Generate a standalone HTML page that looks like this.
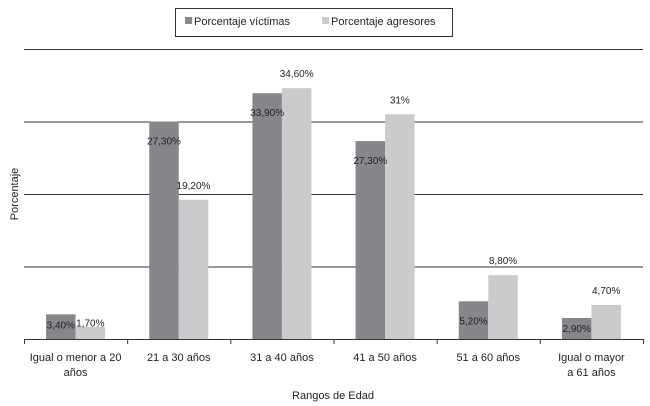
<!DOCTYPE html>
<html><head><meta charset="utf-8"><style>
body{margin:0;background:#fff;}
svg{display:block;font-family:"Liberation Sans",sans-serif;}
</style></head><body>
<svg id="c" width="650" height="406">
<g>
<rect x="175.5" y="8.5" width="277" height="28" fill="#fff" stroke="#333"/>
<rect x="185" y="17" width="7" height="7" fill="#86878a"/>
<text x="194" y="25" font-size="11" fill="#222">Porcentaje víctimas</text>
<rect x="322" y="17" width="7" height="7" fill="#cacbcd"/>
<text x="331" y="25" font-size="11" fill="#222">Porcentaje agresores</text>
</g>
<g id="grid"></g><g id="bars"></g><g id="axis"></g>
<text x="18" y="194" font-size="11" fill="#222" text-anchor="middle" transform="rotate(-90 18 194)">Porcentaje</text>
<text x="333" y="399" font-size="11" fill="#222" text-anchor="middle">Rangos de Edad</text>
</svg>
<script>
const categories=[["Igual o menor a 20","años"],["21 a 30 años"],["31 a 40 años"],["41 a 50 años"],["51 a 60 años"],["Igual o mayor","a 61 años"]];
const victimas=[3.4,30,33.9,27.3,5.2,2.9];
const agresores=[1.7,19.2,34.6,31,8.8,4.7];
const victimasLabels=["3,40%","27,30%","33,90%","27,30%","5,20%","2,90%"];
const agresoresLabels=["1,70%","19,20%","34,60%","31%","8,80%","4,70%"];
const gridValues=[10,20,30,40];

const NS="http://www.w3.org/2000/svg";
const x0=24,x1=643,y0=339,pxPer=7.25;
const step=(x1-x0)/categories.length;
const xs=i=>x0+step*(i+0.5);
const ys=v=>y0-v*pxPer;
function mk(t,a,p){const e=document.createElementNS(NS,t);for(const k in a)e.setAttribute(k,a[k]);p.appendChild(e);return e;}
const G=document.getElementById('grid'),B=document.getElementById('bars'),A=document.getElementById('axis');
gridValues.forEach((v,i)=>{const l=mk('line',{x1:x0,x2:x1,y1:ys(v)+.5,y2:ys(v)+.5,stroke:'#333','stroke-width':1},G);

});
const bw=29.5;
categories.forEach((c,i)=>{
 const cx=xs(i);
 const r1=mk('rect',{x:cx-bw,y:ys(victimas[i]),width:bw,height:victimas[i]*pxPer,fill:'#86878a'},B);
 
 
 const r2=mk('rect',{x:cx,y:ys(agresores[i]),width:bw,height:agresores[i]*pxPer,fill:'#cacbcd'},B);
 
 
 const t1=mk('text',{x:cx-bw/2,y:ys(victimas[i])+(victimas[i]<4?14:23),'font-size':10,fill:'#222','text-anchor':'middle'},B);
 t1.textContent=victimasLabels[i];
 
 
 let ty=ys(agresores[i])-11; if(ty>310) ty=ys(agresores[i])+0;
 const t2=mk('text',{x:cx+bw/2,y:ty,'font-size':10,fill:'#222','text-anchor':'middle'},B);
 t2.textContent=agresoresLabels[i];
 
 
 c.forEach((line,j)=>{const t=mk('text',{x:cx,y:361+j*15,'font-size':11,fill:'#222','text-anchor':'middle'},A);
 t.textContent=line;
 
 });
});
const ax=mk('line',{x1:x0,x2:x1,y1:y0+.5,y2:y0+.5,stroke:'#333'},A);


for(let i=0;i<=categories.length;i++){const t=mk('line',{x1:x0+step*i+.5,x2:x0+step*i+.5,y1:y0,y2:y0+5,stroke:'#333'},A);

}
</script>
</body></html>
